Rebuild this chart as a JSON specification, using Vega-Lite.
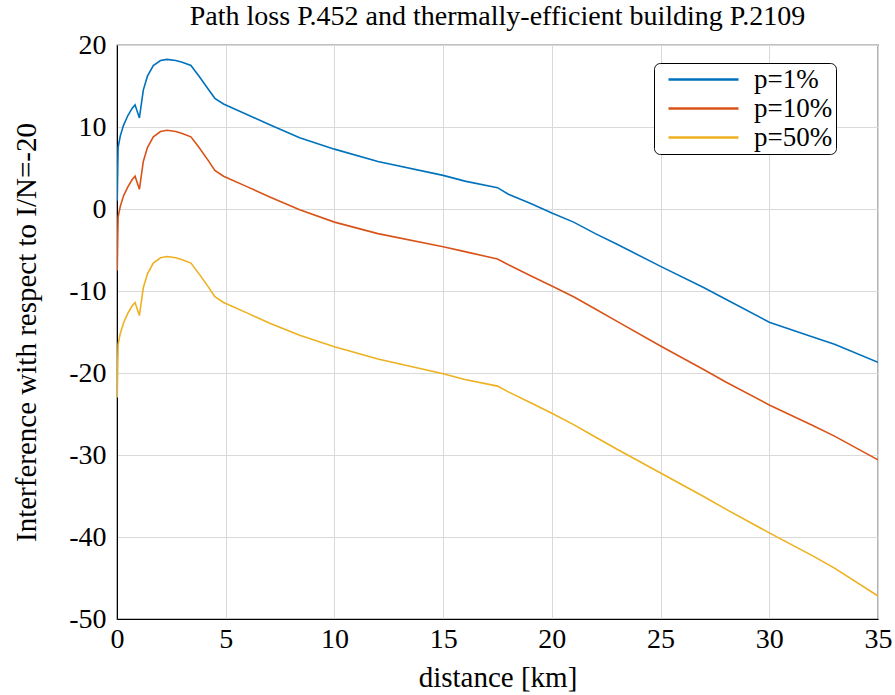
{
  "$schema": "https://vega.github.io/schema/vega-lite/v6.json",
  "width": 761,
  "height": 574,
  "autosize": {"type": "none"},
  "padding": {"left": 117, "top": 45, "right": 17, "bottom": 76},
  "background": "white",
  "config": {
    "font": "Liberation Serif",
    "view": {"stroke": "black", "strokeWidth": 1.2},
    "axis": {"gridColor": "#d9d9d9", "gridWidth": 1, "domainColor": "black", "tickColor": "black", "labelColor": "black", "titleColor": "black", "labelFont": "Liberation Serif", "titleFont": "Liberation Serif", "labelFontSize": 28, "titleFontSize": 29, "titleFontWeight": "normal", "tickSize": 0, "labelFlush": false},
    "legend": {"labelFont": "Liberation Serif"}
  },
  "title": {"text": "Path loss P.452 and thermally-efficient building P.2109", "font": "Liberation Serif", "fontSize": 28, "fontWeight": "normal", "color": "black", "offset": 0, "anchor": "middle"},
  "data": {"values": [
    {"d": 0.01, "v": 1.0, "s": "p=1%"},
    {"d": 0.05, "v": 7.5, "s": "p=1%"},
    {"d": 0.15, "v": 8.9, "s": "p=1%"},
    {"d": 0.3, "v": 10.2, "s": "p=1%"},
    {"d": 0.5, "v": 11.4, "s": "p=1%"},
    {"d": 0.7, "v": 12.3, "s": "p=1%"},
    {"d": 0.83, "v": 12.7, "s": "p=1%"},
    {"d": 1.03, "v": 11.1, "s": "p=1%"},
    {"d": 1.21, "v": 14.5, "s": "p=1%"},
    {"d": 1.4, "v": 16.2, "s": "p=1%"},
    {"d": 1.67, "v": 17.5, "s": "p=1%"},
    {"d": 2.0, "v": 18.1, "s": "p=1%"},
    {"d": 2.3, "v": 18.25, "s": "p=1%"},
    {"d": 2.7, "v": 18.1, "s": "p=1%"},
    {"d": 3.0, "v": 17.9, "s": "p=1%"},
    {"d": 3.4, "v": 17.5, "s": "p=1%"},
    {"d": 3.8, "v": 16.1, "s": "p=1%"},
    {"d": 4.2, "v": 14.6, "s": "p=1%"},
    {"d": 4.5, "v": 13.5, "s": "p=1%"},
    {"d": 4.9, "v": 12.8, "s": "p=1%"},
    {"d": 6, "v": 11.5, "s": "p=1%"},
    {"d": 7, "v": 10.3, "s": "p=1%"},
    {"d": 8.4, "v": 8.7, "s": "p=1%"},
    {"d": 10, "v": 7.3, "s": "p=1%"},
    {"d": 12, "v": 5.8, "s": "p=1%"},
    {"d": 15, "v": 4.1, "s": "p=1%"},
    {"d": 16, "v": 3.4, "s": "p=1%"},
    {"d": 17.5, "v": 2.6, "s": "p=1%"},
    {"d": 18, "v": 1.8, "s": "p=1%"},
    {"d": 19, "v": 0.7, "s": "p=1%"},
    {"d": 20, "v": -0.5, "s": "p=1%"},
    {"d": 21, "v": -1.6, "s": "p=1%"},
    {"d": 22, "v": -3.0, "s": "p=1%"},
    {"d": 23, "v": -4.3, "s": "p=1%"},
    {"d": 25, "v": -7.0, "s": "p=1%"},
    {"d": 27, "v": -9.6, "s": "p=1%"},
    {"d": 28, "v": -11.0, "s": "p=1%"},
    {"d": 30, "v": -13.8, "s": "p=1%"},
    {"d": 32, "v": -15.6, "s": "p=1%"},
    {"d": 33, "v": -16.5, "s": "p=1%"},
    {"d": 35, "v": -18.7, "s": "p=1%"},
    {"d": 0.01, "v": -7.5, "s": "p=10%"},
    {"d": 0.05, "v": -1.0, "s": "p=10%"},
    {"d": 0.15, "v": 0.3, "s": "p=10%"},
    {"d": 0.3, "v": 1.6, "s": "p=10%"},
    {"d": 0.5, "v": 2.7, "s": "p=10%"},
    {"d": 0.7, "v": 3.6, "s": "p=10%"},
    {"d": 0.83, "v": 4.0, "s": "p=10%"},
    {"d": 1.03, "v": 2.4, "s": "p=10%"},
    {"d": 1.21, "v": 5.8, "s": "p=10%"},
    {"d": 1.4, "v": 7.5, "s": "p=10%"},
    {"d": 1.67, "v": 8.8, "s": "p=10%"},
    {"d": 2.0, "v": 9.45, "s": "p=10%"},
    {"d": 2.3, "v": 9.6, "s": "p=10%"},
    {"d": 2.7, "v": 9.45, "s": "p=10%"},
    {"d": 3.0, "v": 9.2, "s": "p=10%"},
    {"d": 3.4, "v": 8.8, "s": "p=10%"},
    {"d": 3.8, "v": 7.4, "s": "p=10%"},
    {"d": 4.2, "v": 5.9, "s": "p=10%"},
    {"d": 4.5, "v": 4.7, "s": "p=10%"},
    {"d": 4.9, "v": 4.0, "s": "p=10%"},
    {"d": 6, "v": 2.7, "s": "p=10%"},
    {"d": 7, "v": 1.5, "s": "p=10%"},
    {"d": 8.4, "v": -0.1, "s": "p=10%"},
    {"d": 10, "v": -1.6, "s": "p=10%"},
    {"d": 12, "v": -3.0, "s": "p=10%"},
    {"d": 15, "v": -4.6, "s": "p=10%"},
    {"d": 16, "v": -5.2, "s": "p=10%"},
    {"d": 17.5, "v": -6.1, "s": "p=10%"},
    {"d": 18, "v": -6.8, "s": "p=10%"},
    {"d": 19, "v": -8.1, "s": "p=10%"},
    {"d": 20, "v": -9.4, "s": "p=10%"},
    {"d": 21, "v": -10.7, "s": "p=10%"},
    {"d": 22, "v": -12.2, "s": "p=10%"},
    {"d": 23, "v": -13.7, "s": "p=10%"},
    {"d": 25, "v": -16.7, "s": "p=10%"},
    {"d": 27, "v": -19.6, "s": "p=10%"},
    {"d": 28, "v": -21.1, "s": "p=10%"},
    {"d": 30, "v": -23.9, "s": "p=10%"},
    {"d": 32, "v": -26.4, "s": "p=10%"},
    {"d": 33, "v": -27.7, "s": "p=10%"},
    {"d": 35, "v": -30.6, "s": "p=10%"},
    {"d": 0.01, "v": -23.0, "s": "p=50%"},
    {"d": 0.05, "v": -16.5, "s": "p=50%"},
    {"d": 0.15, "v": -15.2, "s": "p=50%"},
    {"d": 0.3, "v": -13.9, "s": "p=50%"},
    {"d": 0.5, "v": -12.7, "s": "p=50%"},
    {"d": 0.7, "v": -11.8, "s": "p=50%"},
    {"d": 0.83, "v": -11.4, "s": "p=50%"},
    {"d": 1.03, "v": -13.0, "s": "p=50%"},
    {"d": 1.21, "v": -9.6, "s": "p=50%"},
    {"d": 1.4, "v": -7.9, "s": "p=50%"},
    {"d": 1.67, "v": -6.6, "s": "p=50%"},
    {"d": 2.0, "v": -5.95, "s": "p=50%"},
    {"d": 2.3, "v": -5.8, "s": "p=50%"},
    {"d": 2.7, "v": -5.95, "s": "p=50%"},
    {"d": 3.0, "v": -6.2, "s": "p=50%"},
    {"d": 3.4, "v": -6.6, "s": "p=50%"},
    {"d": 3.8, "v": -8.0, "s": "p=50%"},
    {"d": 4.2, "v": -9.5, "s": "p=50%"},
    {"d": 4.5, "v": -10.7, "s": "p=50%"},
    {"d": 4.9, "v": -11.4, "s": "p=50%"},
    {"d": 6, "v": -12.7, "s": "p=50%"},
    {"d": 7, "v": -13.9, "s": "p=50%"},
    {"d": 8.4, "v": -15.4, "s": "p=50%"},
    {"d": 10, "v": -16.8, "s": "p=50%"},
    {"d": 12, "v": -18.3, "s": "p=50%"},
    {"d": 15, "v": -20.1, "s": "p=50%"},
    {"d": 16, "v": -20.8, "s": "p=50%"},
    {"d": 17.5, "v": -21.6, "s": "p=50%"},
    {"d": 18, "v": -22.3, "s": "p=50%"},
    {"d": 19, "v": -23.6, "s": "p=50%"},
    {"d": 20, "v": -24.9, "s": "p=50%"},
    {"d": 21, "v": -26.3, "s": "p=50%"},
    {"d": 22, "v": -27.8, "s": "p=50%"},
    {"d": 23, "v": -29.3, "s": "p=50%"},
    {"d": 25, "v": -32.2, "s": "p=50%"},
    {"d": 27, "v": -35.1, "s": "p=50%"},
    {"d": 28, "v": -36.6, "s": "p=50%"},
    {"d": 30, "v": -39.5, "s": "p=50%"},
    {"d": 32, "v": -42.3, "s": "p=50%"},
    {"d": 33, "v": -43.8, "s": "p=50%"},
    {"d": 35, "v": -47.2, "s": "p=50%"}
  ]},
  "mark": {"type": "line", "strokeWidth": 1.6, "clip": true},
  "encoding": {
    "x": {"field": "d", "type": "quantitative", "scale": {"domain": [0, 35], "nice": false, "zero": false},
      "axis": {"values": [0, 5, 10, 15, 20, 25, 30, 35], "title": "distance [km]", "labelPadding": 6, "titlePadding": 10}},
    "y": {"field": "v", "type": "quantitative", "scale": {"domain": [-50, 20], "nice": false, "zero": false},
      "axis": {"values": [-50, -40, -30, -20, -10, 0, 10, 20], "labelExpr": "'' + datum.value", "title": "Interference with respect to I/N=-20", "labelPadding": 11, "titlePadding": 27}},
    "color": {"field": "s", "type": "nominal",
      "scale": {"domain": ["p=1%", "p=10%", "p=50%"], "range": ["#0072BD", "#D95319", "#EDB120"]},
      "legend": {"title": null, "orient": "none", "legendX": 537, "legendY": 18, "symbolType": "M-10,0H10", "symbolSize": 49, "symbolStrokeWidth": 2.5, "symbolOffset": 33, "labelFontSize": 27, "labelColor": "black", "labelOffset": 37, "fillColor": "white", "strokeColor": "black", "cornerRadius": 6, "padding": 3, "rowPadding": 1, "offset": 0}}
  }
}
